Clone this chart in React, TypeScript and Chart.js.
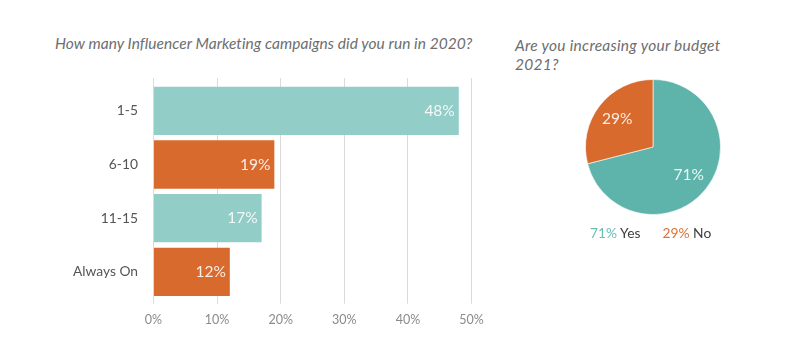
import React, { useEffect, useRef } from "react";
import { Chart, registerables } from "chart.js";

Chart.register(...registerables);

const barTitle = "How many Influencer Marketing campaigns did you run in 2020?";
const categories = ["1-5", "6-10", "11-15", "Always On"];
const campaignShares = [48, 19, 17, 12];
const barColors = ["#92CDC8", "#D96A2E", "#92CDC8", "#D96A2E"];
const xTicks = [0, 10, 20, 30, 40, 50];

const pieTitleLines = ["Are you increasing your budget", "2021?"];
const pieLabels = ["Yes", "No"];
const budgetShares = [71, 29];
const pieColors = ["#5EB4AB", "#D96A2E"];
const legendColors = ["#6BBDB4", "#DB7236"];

const FONT = "Lato, 'Noto Sans', sans-serif";

const barLabelPlugin = {
  id: "barLabels",
  afterDatasetsDraw(chart: any) {
    const ctx = chart.ctx;
    const meta = chart.getDatasetMeta(0);
    ctx.save();
    ctx.font = `15.5px ${FONT}`;
    ctx.fillStyle = "rgba(255,255,255,0.88)";
    ctx.textAlign = "right";
    ctx.textBaseline = "middle";
    meta.data.forEach((bar: any, i: number) => {
      ctx.fillText(`${campaignShares[i]}%`, bar.x - 4, bar.y);
    });
    ctx.restore();
  },
};

const pieLabelPlugin = {
  id: "pieLabels",
  afterDatasetsDraw(chart: any) {
    const ctx = chart.ctx;
    const meta = chart.getDatasetMeta(0);
    ctx.save();
    ctx.font = `15.5px ${FONT}`;
    ctx.fillStyle = "rgba(255,255,255,0.88)";
    ctx.textAlign = "center";
    ctx.textBaseline = "middle";
    meta.data.forEach((arc: any, i: number) => {
      const mid = (arc.startAngle + arc.endAngle) / 2;
      const r = arc.outerRadius * 0.67;
      ctx.fillText(`${budgetShares[i]}%`, arc.x + Math.cos(mid) * r, arc.y + Math.sin(mid) * r);
    });
    ctx.restore();
  },
};

function BarChart() {
  const ref = useRef<HTMLCanvasElement>(null);
  useEffect(() => {
    const chart = new Chart(ref.current as HTMLCanvasElement, {
      type: "bar",
      data: {
        labels: categories,
        datasets: [
          {
            data: campaignShares,
            backgroundColor: barColors,
            borderWidth: 0,
            barPercentage: 0.9,
            categoryPercentage: 1.0,
          },
        ],
      },
      options: {
        indexAxis: "y",
        responsive: false,
        animation: false,
        layout: { padding: { top: 78, right: 28.5, left: 0, bottom: 0 } },
        plugins: { legend: { display: false }, tooltip: { enabled: false } },
        scales: {
          x: {
            type: "linear",
            position: "bottom",
            min: xTicks[0],
            max: xTicks[xTicks.length - 1],
            afterBuildTicks: (s: any) => {
              s.ticks = xTicks.map((v) => ({ value: v }));
            },
            grid: { color: "#DADADA", lineWidth: 1, tickLength: 5, drawTicks: true },
            border: { display: false },
            ticks: {
              padding: 9,
              color: "#8A8A8A",
              font: { family: FONT, size: 12.5 },
              callback: (v: any) => `${v}%`,
            },
            afterFit: (s: any) => {
              s.height = 64.3;
            },
          },
          x2: {
            type: "linear",
            position: "top",
            min: xTicks[0],
            max: xTicks[xTicks.length - 1],
            afterBuildTicks: (s: any) => {
              s.ticks = xTicks.map((v) => ({ value: v }));
            },
            grid: { color: "#DADADA", lineWidth: 1, tickLength: 6, drawTicks: true, drawOnChartArea: false },
            border: { display: false },
            ticks: { display: false },
          },
          y: {
            type: "category",
            grid: { display: false },
            border: { display: false },
            ticks: {
              padding: 7.5,
              color: "#555555",
              font: { family: FONT, size: 13.8 },
            },
            afterFit: (s: any) => {
              s.width = 153.5;
            },
          },
        },
      },
      plugins: [barLabelPlugin],
    } as any);
    return () => chart.destroy();
  }, []);
  return <canvas ref={ref} width={500} height={363} style={{ position: "absolute", left: 0, top: 0, width: 500, height: 363 }} />;
}

function PieChart() {
  const ref = useRef<HTMLCanvasElement>(null);
  useEffect(() => {
    const chart = new Chart(ref.current as HTMLCanvasElement, {
      type: "pie",
      data: {
        labels: pieLabels,
        datasets: [
          {
            data: budgetShares,
            backgroundColor: pieColors,
            borderColor: "rgba(255,255,255,0.6)",
            borderWidth: 1,
          },
        ],
      },
      options: {
        responsive: false,
        animation: false,
        layout: { padding: 12 },
        plugins: { legend: { display: false }, tooltip: { enabled: false } },
      },
      plugins: [pieLabelPlugin],
    } as any);
    return () => chart.destroy();
  }, []);
  return <canvas ref={ref} width={160} height={160} style={{ position: "absolute", left: 573, top: 67, width: 160, height: 160 }} />;
}

export default function App() {
  const titleStyle: React.CSSProperties = {
    position: "absolute",
    fontFamily: FONT,
    fontStyle: "italic",
    fontSize: 15.5,
    color: "#6E6E6E",
    whiteSpace: "nowrap",
    lineHeight: "18.5px",
  };
  return (
    <div style={{ position: "fixed", left: 0, top: 0, width: 800, height: 363, background: "#FFFFFF", overflow: "hidden" }}>
      <div style={{ ...titleStyle, left: 55, top: 34, letterSpacing: "0.05px" }}>{barTitle}</div>
      <div style={{ ...titleStyle, left: 515, top: 36, letterSpacing: "0.27px" }}>
        {pieTitleLines.map((l, i) => (
          <div key={i}>{l}</div>
        ))}
      </div>
      <BarChart />
      <PieChart />
      <div
        style={{
          position: "absolute",
          left: 590,
          top: 225,
          fontFamily: FONT,
          fontSize: 13.8,
          whiteSpace: "nowrap",
          color: "#3E3E3E",
          lineHeight: "16px",
        }}
      >
        {pieLabels.map((l, i) => (
          <span key={i} style={{ marginRight: i === 0 ? 22 : 0 }}>
            <span style={{ color: legendColors[i] }}>{budgetShares[i]}%</span> {l}
          </span>
        ))}
      </div>
    </div>
  );
}
